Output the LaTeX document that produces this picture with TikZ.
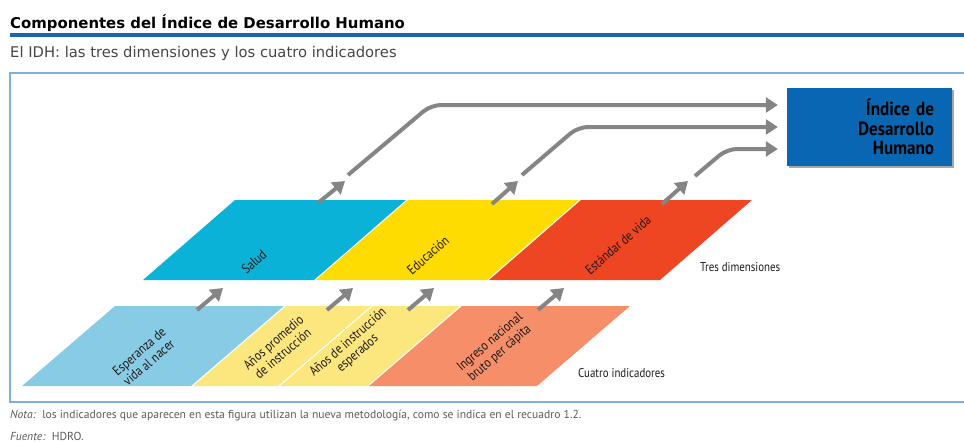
\documentclass[tikz,border=0pt]{standalone}
\usepackage{fontspec}
\setmainfont{PT Sans}
\newfontfamily\titlefont{DejaVu Sans}
\newfontfamily\condfont[FakeStretch=0.85]{PT Sans}
\newfontfamily\boxfont[FakeStretch=0.9]{PT Sans}
\usetikzlibrary{arrows.meta,shadows}
\definecolor{saludcolor}{RGB}{11,178,215}
\definecolor{educolor}{RGB}{255,220,0}
\definecolor{vidacolor}{RGB}{238,69,35}
\definecolor{esperanzacolor}{RGB}{136,203,228}
\definecolor{aniocolor}{RGB}{252,231,127}
\definecolor{ingresocolor}{RGB}{246,142,106}
\definecolor{idhblue}{RGB}{8,102,178}
\definecolor{framecolor}{RGB}{125,177,223}
\definecolor{rulecolor}{RGB}{26,99,174}
\definecolor{arrowgray}{RGB}{133,133,133}
\definecolor{labeltext}{RGB}{30,26,27}
\definecolor{subtext}{RGB}{70,70,70}
\definecolor{notetext}{RGB}{90,90,90}

\begin{document}
\begin{tikzpicture}[x=1pt,y=-1pt,
    arr/.style={draw=arrowgray,line width=4pt,-{Triangle[width=15pt,length=12pt]}},
    lbl/.style={font=\condfont\fontsize{13.6}{14.5}\selectfont,text=labeltext,rotate=41,align=center,inner sep=0pt},
    side/.style={anchor=west,font=\condfont\fontsize{12.8}{13}\selectfont,text=labeltext,inner sep=0pt}]

    \useasboundingbox (0,0) rectangle (964,442);

    % Heading
    \node[anchor=base west,inner sep=0pt,font=\titlefont\bfseries\fontsize{14.9}{16}\selectfont](title) at (10,28) {Componentes del Índice de Desarrollo Humano};
    \draw[rulecolor,line width=3.5pt] (10,35) -- (980,35);
    \node[anchor=base west,inner sep=0pt,font=\titlefont\fontsize{14.75}{16}\selectfont,text=subtext](subtitle) at (10,57) {El IDH: las tres dimensiones y los cuatro indicadores};
    \draw[framecolor,line width=2pt] (10,73) rectangle (985,402);

    % Tres dimensiones
    \fill[saludcolor] (143,280) -- (314,280) -- (406,200) -- (235,200) -- cycle;
    \fill[educolor] (316,280) -- (487,280) -- (579,200) -- (408,200) -- cycle;
    \fill[vidacolor] (489,280) -- (660,280) -- (752,200) -- (581,200) -- cycle;

    % Cuatro indicadores
    \fill[esperanzacolor] (22,386) -- (191,386) -- (284,306) -- (115,306) -- cycle;
    \fill[aniocolor] (193,386) -- (278,386) -- (371,306) -- (286,306) -- cycle;
    \fill[aniocolor] (280,386) -- (367,386) -- (460,306) -- (373,306) -- cycle;
    \fill[ingresocolor] (369,386) -- (537,386) -- (630,306) -- (462,306) -- cycle;

    \node[lbl](salud) at (254,262) {Salud};
    \node[lbl](edu) at (428,255) {Educación};
    \node[lbl](vida) at (618,245) {Estándar de vida};
    \node[lbl](esperanza) at (144,357) {Esperanza de\\vida al nacer};
    \node[lbl](promedio) at (278,348) {Años promedio\\de instrucción};
    \node[lbl](esperados) at (353,348) {Años de instrucción\\esperados};
    \node[lbl](ingreso) at (495,348) {Ingreso nacional\\bruto per cápita};

    \node[side](tres) at (700,267) {Tres dimensiones};
    \node[side](cuatro) at (578,373) {Cuatro indicadores};

    \node[fill=idhblue,minimum height=78pt,text width=129pt,inner xsep=18pt,align=right,
          font=\boxfont\bfseries\fontsize{19}{19.5}\selectfont,text=black,
          drop shadow={shadow xshift=1.5pt,shadow yshift=-1.5pt,opacity=0.35,fill=black}](idh) at (869.5,127) {Índice de\\Desarrollo\\Humano};

    % arrow ends
    \coordinate (esp-a) at (197,310);   \coordinate (esp-b) at (223,288);
    \coordinate (pro-a) at (327,310);   \coordinate (pro-b) at (353,288);
    \coordinate (eso-a) at (408,310);   \coordinate (eso-b) at (434,288);
    \coordinate (ing-a) at (538,310);   \coordinate (ing-b) at (564,288);
    \coordinate (sal-a) at (318,203);   \coordinate (sal-b) at (345,181);
    \coordinate (edu-a) at (492,204);   \coordinate (edu-b) at (518,181);
    \coordinate (vid-a) at (662,204);   \coordinate (vid-b) at (688,181);
    \coordinate (sal-c) at (348,175);   \coordinate (sal-k) at (431,105);
    \coordinate (edu-c) at (522,175);   \coordinate (edu-k) at (578,127);
    \coordinate (vid-c) at (695,176);   \coordinate (vid-k) at (727,149);

    % indicadores -> dimensiones
    \draw[arr] (esp-a) -- (esp-b);
    \draw[arr] (pro-a) -- (pro-b);
    \draw[arr] (eso-a) -- (eso-b);
    \draw[arr] (ing-a) -- (ing-b);
    \draw[arr] (sal-a) -- (sal-b);
    \draw[arr] (edu-a) -- (edu-b);
    \draw[arr] (vid-a) -- (vid-b);

    % dimensiones -> IDH
    \draw[arr,rounded corners=10pt,shorten >=9pt] (sal-c) -- (sal-k) -- (idh.west |- sal-k);
    \draw[arr,rounded corners=10pt,shorten >=9pt] (edu-c) -- (edu-k) -- (idh.west |- edu-k);
    \draw[arr,rounded corners=10pt,shorten >=9pt] (vid-c) -- (vid-k) -- (idh.west |- vid-k);

    \node[anchor=base west,inner sep=0pt,font=\fontsize{11.6}{13}\selectfont,text=notetext](nota) at (10,418) {\textit{Nota:}\ \ los indicadores que aparecen en esta figura utilizan la nueva metodología, como se indica en el recuadro 1.2.};
    \node[anchor=base west,inner sep=0pt,font=\fontsize{11.6}{13}\selectfont,text=notetext](fuente) at (10,440) {\textit{Fuente:}\ \ HDRO.};

\end{tikzpicture}
\end{document}
